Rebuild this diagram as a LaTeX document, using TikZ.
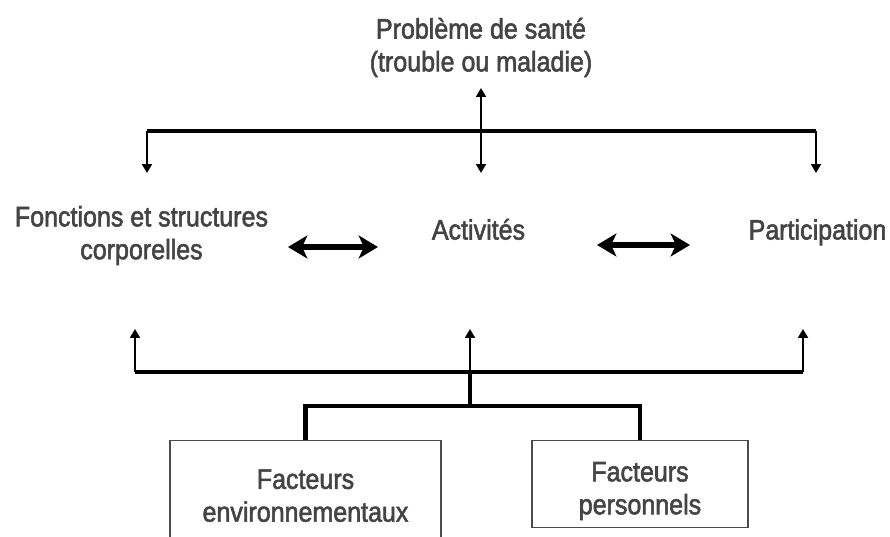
\documentclass[tikz,border=0pt]{standalone}
\usepackage{fontspec}
\setmainfont{Liberation Sans}[FakeStretch=0.89,FakeBold=2]
\usepackage{xcolor}
\usetikzlibrary{shapes,calc,positioning,arrows.meta}
\definecolor{txtgray}{HTML}{444444}

\begin{document}
\begin{tikzpicture}[>={Triangle[length=5pt,width=5.5pt]}]
\tikzstyle{lbl}=[draw=none,text centered,text=txtgray,font=\fontsize{16}{18.7}\selectfont,align=center,inner sep=0pt]
\tikzstyle{fac}=[lbl,draw=black!70,line width=0.8pt]
\tikzstyle{bar}=[line width=2.4pt]
\tikzstyle{arr}=[line width=1.6pt]
\tikzstyle{dbl}=[line width=3pt,{Stealth[length=11pt,width=13pt,inset=3pt]}-{Stealth[length=11pt,width=13pt,inset=3pt]}]
\useasboundingbox (0,0) rectangle (17.8,-10.74);
\node[lbl] (prob) at (9.62,-0.95) {Problème de santé\\(trouble ou maladie)};
\node[lbl] (fonc) at (2.83,-4.71) {Fonctions et structures\\corporelles};
\node[lbl,anchor=base] (act) at (9.57,-4.79) {Activités};
\node[lbl,anchor=base] (part) at (16.35,-4.79) {Participation};
\node[fac,minimum width=5.42cm,minimum height=2.2cm,anchor=north] (env) at (6.11,-8.8) {Facteurs\\environnementaux};
\node[fac,minimum width=4.32cm,minimum height=1.74cm,anchor=north] (pers) at (12.8,-8.8) {\rule{0pt}{18.8pt}Facteurs\\personnels};
% top fork
\coordinate (tl) at (2.94,-2.62);
\coordinate (tr) at (16.32,-2.62);
\coordinate (pu) at (9.62,-1.76);
\coordinate (fd) at (2.94,-3.46);
\coordinate (ad) at (9.62,-3.46);
\coordinate (pd) at (16.32,-3.46);
\draw[bar] (tl) -- (tr);
\draw[arr,->] (tl) -- (fd);
\draw[arr,<->] (pu) -- (ad);
\draw[arr,->] (tr) -- (pd);
% middle
\coordinate (d1) at (5.76,-4.94);
\coordinate (d2) at (7.56,-4.94);
\coordinate (d3) at (11.94,-4.9);
\coordinate (d4) at (13.8,-4.9);
\draw[dbl] (d1) -- (d2);
\draw[dbl] (d3) -- (d4);
% bottom fork
\coordinate (bl) at (2.7,-7.44);
\coordinate (bm) at (9.4,-7.44);
\coordinate (br) at (16.06,-7.44);
\coordinate (fu) at (2.7,-6.58);
\coordinate (au) at (9.4,-6.58);
\coordinate (qu) at (16.06,-6.58);
\coordinate (j) at (9.4,-8.12);
\draw[bar] (bl) -- (br);
\draw[arr,->] (bl) -- (fu);
\draw[arr,->] (bm) -- (au);
\draw[arr,->] (br) -- (qu);
\draw[bar] (j) -- (bm);
\draw[bar] (env.north) |- (j) -| (pers.north);
\end{tikzpicture}
\end{document}
